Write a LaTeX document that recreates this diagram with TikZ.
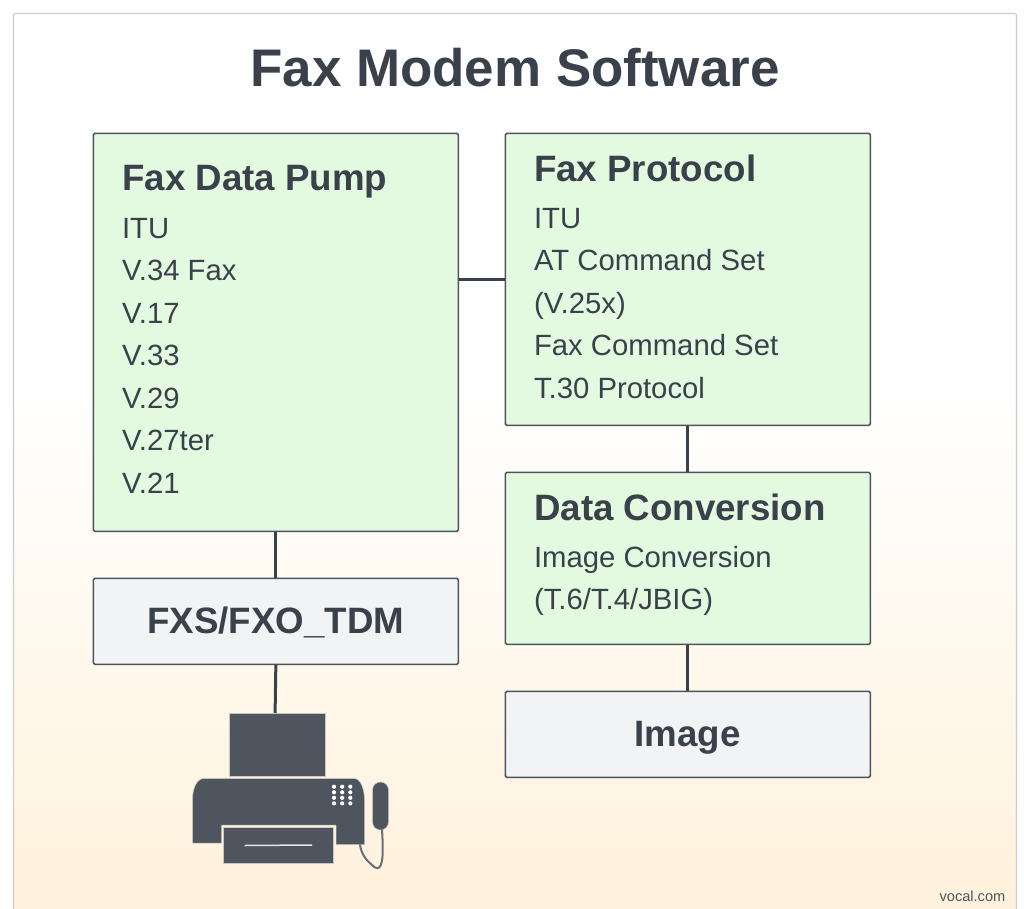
\documentclass[tikz,border=0pt]{standalone}
\usepackage{fontspec}
\setmainfont{Liberation Sans}
\definecolor{ink}{HTML}{3A414A}
\definecolor{boxline}{HTML}{4C535D}
\definecolor{greenfill}{HTML}{E3FAE1}
\definecolor{greyfill}{HTML}{F2F3F5}
\definecolor{warm}{HTML}{FFF2DC}
\definecolor{faxc}{HTML}{4E555F}
\definecolor{frame}{HTML}{C9CBCD}
\definecolor{halo}{HTML}{C9C6BC}
\tikzset{
  greenbox/.style={draw=boxline,fill=greenfill,line width=1.5pt,rounded corners=1.5pt,anchor=north west,inner sep=0pt},
  greybox/.style={draw=boxline,fill=greyfill,line width=1.5pt,rounded corners=1.5pt,anchor=north west,inner sep=0pt,text=ink,font=\fontsize{36.7}{40}\selectfont\bfseries},
  wire/.style={draw=ink,line width=3pt},
  hd/.style={anchor=base west,inner sep=0pt,text=ink,font=\fontsize{36.7}{40}\selectfont\bfseries},
  body/.style={anchor=base west,inner sep=0pt,text=ink,align=left,font=\fontsize{29.3}{42.5}\selectfont},
  faxpart/.style={fill=faxc,draw=halo,line width=0.5pt},
  dot/.style={fill=white,draw=none},
}
\begin{document}
\begin{tikzpicture}[x=1pt,y=-1pt]
\useasboundingbox (0,0) rectangle (1024,909);
\fill[white] (0,0) rectangle (1024,909);
\shade[top color=white,bottom color=warm,draw=none] (14,390) rectangle (1016,909);
\draw[frame,line width=1.2pt,rounded corners=2pt] (13.5,909.5) -- (13.5,13.5) -- (1016.5,13.5) -- (1016.5,909.5);
\node[anchor=base,inner sep=0pt,text=ink,font=\fontsize{52.9}{60}\selectfont\bfseries] (title) at (515,87) {Fax Modem Software};
% boxes
\node[greenbox,minimum width=365pt,minimum height=398pt] (pump) at (92.6,132.6) {};
\node[greenbox,minimum width=365pt,minimum height=292pt] (proto) at (504.6,132.6) {};
\node[greenbox,minimum width=365pt,minimum height=172pt] (conv) at (504.6,471.6) {};
\node[greybox,minimum width=365pt,minimum height=86pt] (fxs) at (92.6,577.6) {};
\node[greybox,minimum width=365pt,minimum height=86pt] (image) at (504.6,690.6) {};
% text
\node[hd,anchor=base] (fxsl) at (275.6,633) {FXS/FXO\_TDM};
\node[hd,anchor=base] (imagel) at (687.6,746.5) {Image};
\node[hd] (pumph) at (122,191) {Fax Data Pump};
\node[body] (pumpb) at (121.8,493) {ITU\\V.34 Fax\\V.17\\V.33\\V.29\\V.27ter\\V.21};
\node[hd] (protoh) at (533.9,182) {Fax Protocol};
\node[body] (protob) at (533.8,398) {ITU\\AT Command Set\\(V.25x)\\Fax Command Set\\T.30 Protocol};
\node[hd] (convh) at (533.9,520) {Data Conversion};
\node[body] (convb) at (533.8,609.5) {Image Conversion\\(T.6/T.4/JBIG)};
% fax machine
\coordinate (faxtop) at (275.1,713);
\draw[faxpart] (229.5,713.5) rectangle (325,776);
\draw[faxpart] (192.5,843) -- (192.5,800) .. controls (192.5,788) and (197,778.5) .. (204,778.5) -- (354,778.5)
  .. controls (361,778.5) and (364.5,790) .. (364.5,800) -- (364.5,844.5) -- (336,844.5) -- (336,825) -- (221.5,825) -- (221.5,843) -- cycle;
\draw[faxpart] (223.5,827.5) rectangle (333,863);
\draw[white!85!faxc,line width=1.5pt] (244.5,845.5) -- (312,845);
\draw[faxpart] (372.5,790) arc[start angle=180,end angle=360,radius=8] -- (388.5,822) arc[start angle=0,end angle=180,x radius=8,y radius=8] -- cycle;
\draw[draw=faxc!85!white,line width=2pt,line cap=round] (360,845) .. controls (362,856) and (367,861) .. (375,867.5) .. controls (382,871) and (384,860) .. (382,830);
\foreach \dx in {0,1,2}{\foreach \dy in {0,1,2,3}{
  \fill[dot] ({334+8.15*\dx},{786.7+5.55*\dy}) circle (2.1pt);
}}
% connectors
\draw[wire] (pump.east |- 0,279) -- (proto.west |- 0,279);
\draw[wire] (proto.south) -- (conv.north);
\draw[wire] (conv.south) -- (image.north);
\draw[wire] (pump.south) -- (fxs.north);
\draw[wire] (fxs.south) -- (faxtop);
\node[anchor=base east,inner sep=0pt,text=faxc,font=\fontsize{14.6}{16}\selectfont] (site) at (1005.5,901) {vocal.com};
\end{tikzpicture}
\end{document}
